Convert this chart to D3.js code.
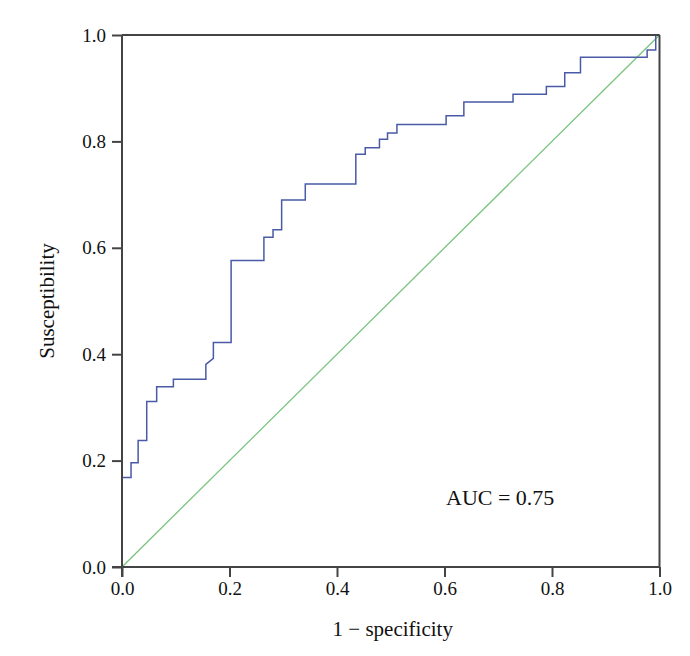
<!DOCTYPE html>
<html><head><meta charset="utf-8">
<script src="https://cdn.jsdelivr.net/npm/d3@7"></script>
<style>body{margin:0;background:#fff}</style>
</head><body>
<svg id="c" width="690" height="656"></svg>
<script>
// ROC step points: [1 - specificity, sensitivity]
const fpr = [0, 0, 0.0168, 0.0168, 0.030, 0.030, 0.046, 0.046, 0.0645, 0.0645, 0.0956, 0.0956, 0.156, 0.156, 0.170, 0.170, 0.203, 0.203, 0.264, 0.264, 0.281, 0.281, 0.297, 0.297, 0.341, 0.341, 0.435, 0.435, 0.4525, 0.4525, 0.479, 0.479, 0.494, 0.494, 0.5115, 0.5115, 0.603, 0.603, 0.636, 0.636, 0.7275, 0.7275, 0.7895, 0.7895, 0.8237, 0.8237, 0.853, 0.853, 0.977, 0.977, 0.993, 0.993, 1.0];
const tpr = [0, 0.168, 0.168, 0.196, 0.196, 0.238, 0.238, 0.311, 0.311, 0.339, 0.339, 0.353, 0.353, 0.381, 0.392, 0.422, 0.422, 0.576, 0.576, 0.620, 0.620, 0.634, 0.634, 0.690, 0.690, 0.720, 0.720, 0.776, 0.776, 0.788, 0.788, 0.804, 0.804, 0.816, 0.816, 0.832, 0.832, 0.848, 0.848, 0.874, 0.874, 0.8885, 0.8885, 0.903, 0.903, 0.929, 0.929, 0.958, 0.958, 0.972, 0.972, 1.0, 1.0];
const refX = [0, 1];
const refY = [0, 1];
const xTicks = [0, 0.2, 0.4, 0.6, 0.8, 1.0];
const yTicks = [0, 0.2, 0.4, 0.6, 0.8, 1.0];
const aucLabel = "AUC = 0.75";

const svg = d3.select("#c");
const x = d3.scaleLinear().domain([0, 1]).range([122, 659.5]);
const y = d3.scaleLinear().domain([0, 1]).range([567, 35]);
const font = "'Liberation Serif', 'Times New Roman', serif";
const axisCol = "#444";

// reference diagonal
const refData = refX.map((v, i) => [v, refY[i]]);
svg.append("path").datum(refData)
  .attr("d", d3.line().x(d => x(d[0])).y(d => y(d[1])))
  .attr("fill", "none").attr("stroke", "#78c47e").attr("stroke-width", 1.3);

// ROC curve
const rocData = fpr.map((v, i) => [v, tpr[i]]);
svg.append("path").datum(rocData)
  .attr("d", d3.line().x(d => x(d[0])).y(d => y(d[1])))
  .attr("fill", "none").attr("stroke", "#4a5aa6").attr("stroke-width", 1.5);

// frame top and right
svg.append("line").attr("x1", x(0)).attr("x2", x(1)).attr("y1", y(1)).attr("y2", y(1))
  .attr("stroke", axisCol).attr("stroke-width", 2);
svg.append("line").attr("x1", x(1)).attr("x2", x(1)).attr("y1", y(1)).attr("y2", y(0))
  .attr("stroke", axisCol).attr("stroke-width", 2);

const fmt = d3.format(".1f");
const gx = svg.append("g").attr("transform", `translate(0,${y(0)})`)
  .call(d3.axisBottom(x).tickValues(xTicks).tickFormat(fmt).tickSize(10).tickPadding(5));
const gy = svg.append("g").attr("transform", `translate(${x(0)},0)`)
  .call(d3.axisLeft(y).tickValues(yTicks).tickFormat(fmt).tickSize(10).tickPadding(6));
[gx, gy].forEach(g => {
  g.attr("font-family", font).attr("font-size", 19);
  g.select(".domain").attr("stroke", axisCol).attr("stroke-width", 2);
  g.selectAll(".tick line").attr("stroke", axisCol).attr("stroke-width", 2);
  g.selectAll("text").attr("fill", "#111");
});
gx.select(".domain").attr("d", `M${x(0) - 10},0H${x(1)}`);
gy.select(".domain").attr("d", `M0,${y(0) + 10}V${y(1)}`);

svg.append("text").attr("x", (x(0) + x(1)) / 2 + 2).attr("y", 636)
  .attr("text-anchor", "middle").attr("font-family", font).attr("font-size", 21).attr("fill", "#111")
  .text("1 \u2212 specificity");
svg.append("text").attr("transform", `translate(54,${(y(0) + y(1)) / 2}) rotate(-90)`)
  .attr("text-anchor", "middle").attr("font-family", font).attr("font-size", 21).attr("fill", "#111")
  .text("Susceptibility");
svg.append("text").attr("x", 446).attr("y", 505)
  .attr("font-family", font).attr("font-size", 22).attr("fill", "#111")
  .text(aucLabel);
</script>
</body></html>
